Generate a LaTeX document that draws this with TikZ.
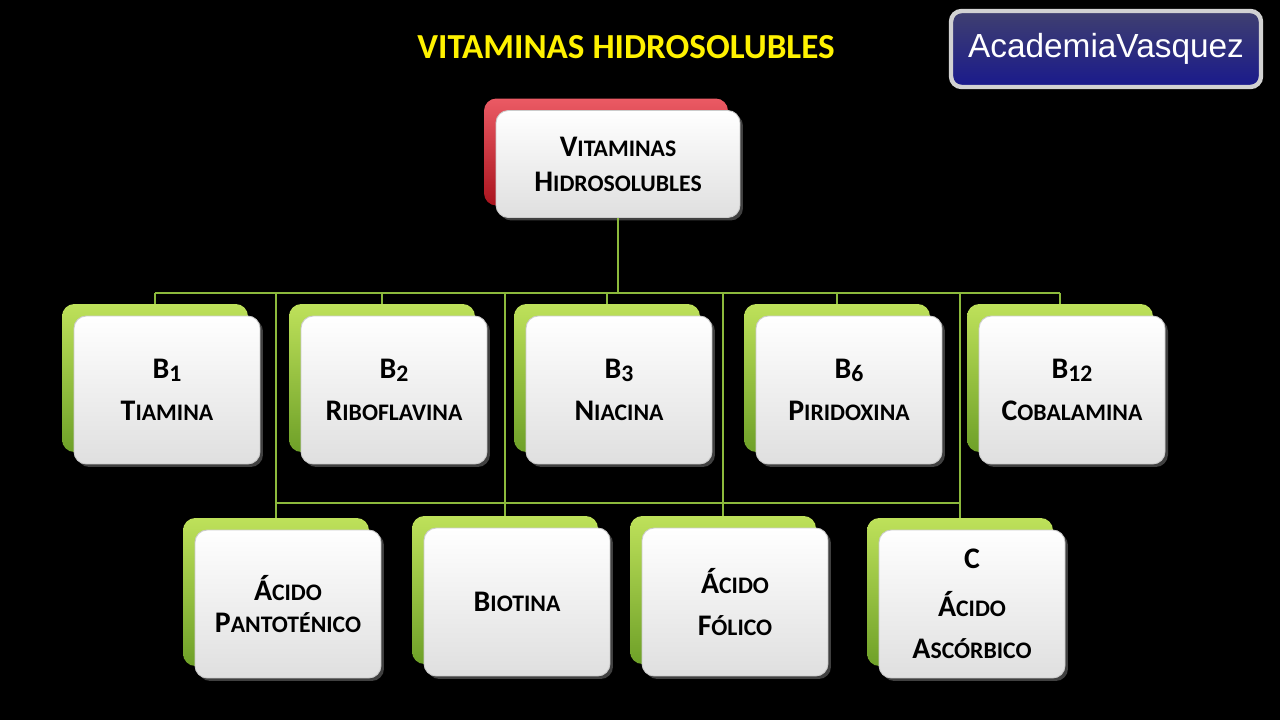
\documentclass[tikz,border=0pt]{standalone}
\usepackage{fontspec}
\setmainfont{Carlito}
\newfontfamily\logofont{Liberation Sans}
\usetikzlibrary{shadows}
\definecolor{lineg}{RGB}{140,185,60}
\definecolor{gtop}{RGB}{190,225,90}
\definecolor{gbot}{RGB}{110,160,40}
\definecolor{rtop}{RGB}{235,90,100}
\definecolor{rbot}{RGB}{170,20,30}
\newcommand{\scx}[2]{{\fontsize{17}{20}\selectfont #1}{\fontsize{13.5}{20}\selectfont #2}}
\newcommand{\bsub}[1]{{\fontsize{17}{20}\selectfont B}\raisebox{-0.35ex}{\fontsize{13.5}{14}\selectfont #1}}
\tikzset{
 backg/.style={draw=none,rounded corners=7pt,top color=gtop,bottom color=gbot,minimum width=3.72cm,minimum height=2.96cm},
 backr/.style={draw=none,rounded corners=7pt,top color=rtop,bottom color=rbot,minimum width=4.88cm,minimum height=2.14cm},
 front/.style={draw=gray!40,rounded corners=7pt,top color=white,bottom color=gray!25,minimum width=3.72cm,minimum height=2.96cm,align=center,font=\bfseries,text=black,line width=0.5pt,drop shadow={shadow xshift=0.6mm,shadow yshift=-0.6mm,opacity=0.5}},
 conn/.style={draw=lineg,line width=1.6pt}
}
\begin{document}
\begin{tikzpicture}[x=0.02cm,y=-0.02cm]
\fill[black] (0,0) rectangle (1280,720);
\useasboundingbox (0,0) rectangle (1280,720);
\node[text=yellow,font=\bfseries\fontsize{20}{24}\selectfont] (title) at (626,47) {VITAMINAS HIDROSOLUBLES};
\node[draw=gray!35,line width=2.5pt,rounded corners=6pt,top color=blue!25!black!75!white,bottom color=blue!50!black!90,minimum width=6.2cm,minimum height=1.52cm,text=white,font=\logofont\fontsize{19}{22}\selectfont] (logo) at (1106,49) {AcademiaVasquez};
% top
\node[backr] (tb) at (606,152) {};
\node[front,minimum width=4.88cm,minimum height=2.14cm] (t) at (618,164) {\scx{V}{ITAMINAS}\\[8pt]\scx{H}{IDROSOLUBLES}};
% row1
\foreach \n/\x/\txt in {b1/167/{\bsub{1}\\[10pt]\scx{T}{IAMINA}},b2/394/{\bsub{2}\\[10pt]\scx{R}{IBOFLAVINA}},b3/619/{\bsub{3}\\[10pt]\scx{N}{IACINA}},b6/849/{\bsub{6}\\[10pt]\scx{P}{IRIDOXINA}},b12/1072/{\bsub{12}\\[10pt]\scx{C}{OBALAMINA}}}{
 \node[backg] (\n b) at (\x-12,378) {};
 \node[front] (\n) at (\x,390) {\txt};
}
\foreach \n/\x/\y/\txt in {pa/288/604/{\scx{Á}{CIDO}\\[6pt]\scx{P}{ANTOTÉNICO}},bi/517/602/{\scx{B}{IOTINA}},fo/735/602/{\scx{Á}{CIDO}\\[12pt]\scx{F}{ÓLICO}},cc/972/604/{\scx{C}{}\\[12pt]\scx{Á}{CIDO}\\[12pt]\scx{A}{SCÓRBICO}}}{
 \node[backg] (\n b) at (\x-12,\y-12) {};
 \node[front] (\n) at (\x,\y) {\txt};
}
% connectors
\coordinate (j) at (606,293);
\coordinate (k) at (606,503);
\draw[conn] (t.south -| tb.east) ++(0,0);
\draw[conn] (t.south) -- (t.south |- j);
\draw[conn] (b1b.north |- j) -- (b12b.north |- j);
\foreach \n in {b1b,b2b,b3b,b6b,b12b}{\draw[conn] (\n.north |- j) -- (\n.north);}
\foreach \n in {pab,bib,fob,ccb}{\draw[conn] (\n.north |- j) -- (\n.north);}
\draw[conn] (pab.north |- k) -- (ccb.north |- k);
\end{tikzpicture}
\end{document}
